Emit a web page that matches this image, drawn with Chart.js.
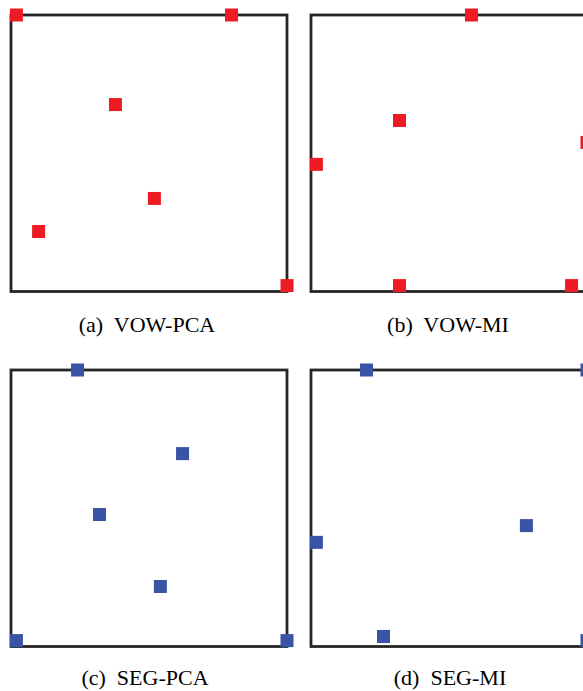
<!DOCTYPE html>
<html>
<head>
<meta charset="utf-8">
<title>Selected feature positions</title>
<script src="https://cdn.jsdelivr.net/npm/chart.js@4/dist/chart.umd.min.js"></script>
<style>
  html, body { margin: 0; padding: 0; background: #ffffff; }
  body { width: 583px; height: 691px; overflow: hidden; position: relative; }
  .panel { position: absolute; }
  .caption {
    position: absolute;
    font-family: "Liberation Serif", "DejaVu Serif", serif;
    font-size: 22px;
    line-height: 22px;
    color: #000000;
    white-space: pre;
    transform: translateX(-50%);
  }
</style>
</head>
<body>
<canvas id="panelA" class="panel" width="300" height="300" style="left:-1px;top:3px"></canvas>
<canvas id="panelB" class="panel" width="300" height="300" style="left:299px;top:3px"></canvas>
<canvas id="panelC" class="panel" width="300" height="300" style="left:-1px;top:358px"></canvas>
<canvas id="panelD" class="panel" width="300" height="300" style="left:299px;top:358px"></canvas>

<div class="caption" style="left:147px;top:314px">(a)  VOW-PCA</div>
<div class="caption" style="left:448px;top:314px">(b)  VOW-MI</div>
<div class="caption" style="left:145px;top:667px">(c)  SEG-PCA</div>
<div class="caption" style="left:450px;top:667px">(d)  SEG-MI</div>

<script>
// Normalised positions of the selected points in each projection
const vowPcaX = [0.00, 0.795, 0.366, 0.510, 0.082, 1.00];
const vowPcaY = [1.00, 1.00, 0.669, 0.322, 0.200, 0.00];

const vowMiX = [0.573, 0.307, 1.00, 0.00, 0.307, 0.943];
const vowMiY = [1.00, 0.610, 0.529, 0.448, 0.00, 0.00];

const segPcaX = [0.226, 0.614, 0.307, 0.532, 0.00, 1.00];
const segPcaY = [1.00, 0.691, 0.466, 0.200, 0.00, 0.00];

const segMiX = [0.185, 1.00, 0.776, 0.00, 0.248, 1.00];
const segMiY = [1.00, 1.00, 0.425, 0.363, 0.015, 0.00];

const RED = '#ed1c24';
const BLUE = '#3953a5';

// Frame drawn around the plotting area, beneath the markers
const framePlugin = {
  id: 'frame',
  beforeDatasetsDraw(chart) {
    const a = chart.chartArea;
    const ctx = chart.ctx;
    ctx.save();
    ctx.strokeStyle = '#262626';
    ctx.lineWidth = 2.8;
    ctx.strokeRect(a.left, a.top, a.right - a.left, a.bottom - a.top + 0.5);
    ctx.restore();
  }
};

function toPoints(xs, ys) {
  return xs.map((x, i) => ({ x: x, y: ys[i] }));
}

function makePanel(id, xs, ys, color) {
  new Chart(document.getElementById(id), {
    type: 'scatter',
    data: {
      datasets: [{
        data: toPoints(xs, ys),
        pointStyle: 'rect',
        pointRadius: 9.2,
        pointHoverRadius: 9.2,
        backgroundColor: color,
        borderColor: color,
        borderWidth: 0,
        clip: false
      }]
    },
    options: {
      responsive: false,
      maintainAspectRatio: false,
      animation: false,
      devicePixelRatio: 1,
      layout: { padding: 12 },
      plugins: { legend: { display: false }, tooltip: { enabled: false } },
      events: [],
      scales: {
        x: { type: 'linear', min: -0.02, max: 1.0, display: false },
        y: { type: 'linear', min: -0.02, max: 1.0, display: false }
      }
    },
    plugins: [framePlugin]
  });
}

makePanel('panelA', vowPcaX, vowPcaY, RED);
makePanel('panelB', vowMiX, vowMiY, RED);
makePanel('panelC', segPcaX, segPcaY, BLUE);
makePanel('panelD', segMiX, segMiY, BLUE);
</script>
</body>
</html>
